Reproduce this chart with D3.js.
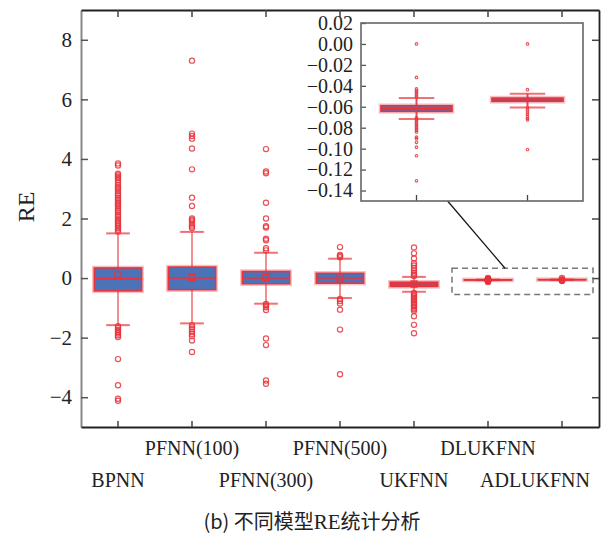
<!DOCTYPE html>
<html>
<head>
<meta charset="utf-8">
<title>RE boxplot</title>
<script src="https://cdn.jsdelivr.net/npm/d3@7"></script>
<style>
  body { margin: 0; background: #fff; }
  text { font-family: 'Liberation Serif', 'Times New Roman', serif; fill: #222; }
  .cjk { font-family: 'Noto Sans CJK SC', sans-serif; }
  .serif { font-family: 'Liberation Serif', serif; }
</style>
</head>
<body>
<svg id="chart" width="616" height="540"></svg>
<script>
// values
var models = ["BPNN", "PFNN(100)", "PFNN(300)", "PFNN(500)", "UKFNN", "DLUKFNN", "ADLUKFNN"];
var q1 = [-0.43, -0.39, -0.19, -0.17, -0.28, -0.0644, -0.0548];
var median = [-0.02, 0.0, 0.0, 0.0, -0.2, -0.0618, -0.0532];
var q3 = [0.34, 0.37, 0.22, 0.16, -0.14, -0.059, -0.0517];
var mean = [0.12, 0.02, 0.02, 0.0, -0.2, -0.062, -0.053];
var whiskerLow = [-1.58, -1.52, -0.86, -0.67, -0.46, -0.0718, -0.0606];
var whiskerHigh = [1.5, 1.55, 0.85, 0.65, 0.04, -0.0517, -0.0475];
var outliers = [
  [3.85, 3.78, 3.5, 3.45, 3.4, 3.35, 3.28, 3.2, 3.12, 3.05, 3.0, 2.92, 2.85, 2.78, 2.7, 2.64, 2.58, 2.52, 2.46, 2.4,
   2.33, 2.26, 2.2, 2.12, 2.05, 1.98, 1.92, 1.86, 1.8, 1.74, 1.68, 1.62, 1.56,
   -1.62, -1.68, -1.74, -1.8, -1.86, -1.92, -1.98, -2.72, -3.6, -4.05, -4.12],
  [7.3, 4.85, 4.77, 4.68, 4.35, 3.65, 2.7, 2.42, 2.0, 1.95, 1.9, 1.8, 1.73, 1.68,
   -1.58, -1.65, -1.72, -1.8, -1.88, -1.95, -2.1, -2.48],
  [4.33, 3.58, 3.52, 2.53, 2.0, 1.74, 1.7, 1.32, 1.27, 1.0, 0.93,
   -0.87, -0.92, -0.98, -1.07, -2.03, -2.25, -3.44, -3.55],
  [1.04, 0.78, 0.74, 0.7, -0.7, -0.77, -0.85, -1.06, -1.73, -3.23],
  [1.03, 0.83, 0.66, 0.5, 0.42, 0.34, 0.26, 0.18, 0.12, 0.07,
   -0.5, -0.55, -0.6, -0.65, -0.7, -0.75, -0.8, -0.85, -0.9, -0.95, -1.0, -1.05, -1.1, -1.28, -1.57, -1.85],
  [0.0, -0.032, -0.043, -0.0445, -0.046, -0.0475, -0.049, -0.0505, -0.0705, -0.072, -0.0735, -0.075, -0.0765,
   -0.078, -0.0795, -0.081, -0.0825, -0.084, -0.089, -0.0905, -0.094, -0.0986, -0.1068, -0.1307],
  [0.0, -0.0437, -0.061, -0.063, -0.065, -0.067, -0.069, -0.071, -0.0725, -0.1008]
];
var yTicks = [-4, -2, 0, 2, 4, 6, 8];
var insetModels = ["DLUKFNN", "ADLUKFNN"];
var insetTicks = [0.02, 0.00, -0.02, -0.04, -0.06, -0.08, -0.10, -0.12, -0.14];
var zoomRange = [-0.55, 0.33];

var blue = "#4c72b8", red = "#e8333b";

var svg = d3.select("#chart");

var x = d3.scaleBand().domain(models).range([81, 599]).padding(0);
var y = d3.scaleLinear().domain([-5, 9]).range([427, 10]);

// frame + axes
var gl = svg.append("g").attr("transform", "translate(81,0)")
  .call(d3.axisLeft(y).tickValues(yTicks).tickSize(-7).tickSizeOuter(0).tickPadding(9).tickFormat(d3.format("d")));
gl.attr("font-family", null).attr("font-size", null);
gl.select(".domain").attr("stroke", "#888").attr("stroke-width", 2);
gl.selectAll(".tick line").attr("stroke", "#555").attr("stroke-width", 1.5);
gl.selectAll(".tick text").attr("class", "serif").style("font-size", "21px").attr("fill", "#222");

var gr = svg.append("g").attr("transform", "translate(599,0)")
  .call(d3.axisRight(y).tickValues(yTicks).tickSize(-7).tickSizeOuter(0).tickFormat(""));
var gt = svg.append("g").attr("transform", "translate(0,10)")
  .call(d3.axisTop(x).tickSize(-7).tickSizeOuter(0).tickFormat(""));
var gb = svg.append("g").attr("transform", "translate(0,427)")
  .call(d3.axisBottom(x).tickSize(-6).tickSizeOuter(0).tickFormat(""));
[gr, gt, gb].forEach(function(g) {
  g.select(".domain").attr("stroke", "#222").attr("stroke-width", 1.8);
  g.selectAll(".tick line").attr("stroke", "#444").attr("stroke-width", 1.5);
});

// category labels, staggered in two rows
svg.append("g").selectAll("text")
  .data(models)
  .enter().append("text")
    .attr("class", "serif")
    .attr("x", function(d) { return x(d) + x.bandwidth() / 2; })
    .attr("y", function(d, i) { return i % 2 ? 455 : 487; })
    .attr("text-anchor", "middle")
    .style("font-size", "20px")
    .text(function(d) { return d; })
    .each(function() {
      var w = this.getComputedTextLength(), cx = +this.getAttribute("x");
      if (cx + w / 2 > 590) this.setAttribute("x", 590 - w / 2);
    });

svg.append("text")
  .attr("class", "serif")
  .attr("transform", "translate(34,207) rotate(-90)")
  .attr("text-anchor", "middle")
  .style("font-size", "24px")
  .text("RE");

var cap = svg.append("text").attr("x", 312).attr("y", 529).attr("text-anchor", "middle")
  .style("font-size", "20px");
cap.append("tspan").attr("class", "cjk").text("(b) 不同模型");
cap.append("tspan").attr("class", "serif").style("font-size", "21px").text("RE");
cap.append("tspan").attr("class", "cjk").text("统计分析");

function drawBox(g, xs, ys, i, name, opt) {
  var bw = xs.bandwidth(), cx = xs(name) + bw / 2;
  var boxW = bw * 0.64, capW = bw * 0.32;
  var b = g.append("g");
  // whisker
  b.append("line").attr("x1", cx).attr("x2", cx)
    .attr("y1", ys(whiskerLow[i])).attr("y2", ys(whiskerHigh[i]))
    .attr("stroke", red).attr("stroke-opacity", opt.whiskerOpacity).attr("stroke-width", 2);
  [whiskerLow[i], whiskerHigh[i]].forEach(function(v) {
    b.append("line").attr("x1", cx - capW / 2).attr("x2", cx + capW / 2)
      .attr("y1", ys(v)).attr("y2", ys(v))
      .attr("stroke", red).attr("stroke-opacity", 0.7).attr("stroke-width", 2);
  });
  // box halo and box
  b.append("rect").attr("x", cx - boxW / 2).attr("width", boxW)
    .attr("y", ys(q3[i])).attr("height", ys(q1[i]) - ys(q3[i]))
    .attr("fill", "none").attr("stroke", red).attr("stroke-opacity", 0.3).attr("stroke-width", 4.5);
  b.append("rect").attr("x", cx - boxW / 2).attr("width", boxW)
    .attr("y", ys(q3[i])).attr("height", ys(q1[i]) - ys(q3[i]))
    .attr("fill", blue).attr("stroke", red).attr("stroke-width", 1.6);
  b.append("line").attr("x1", cx - boxW / 2).attr("x2", cx + boxW / 2)
    .attr("y1", ys(median[i])).attr("y2", ys(median[i]))
    .attr("stroke", red).attr("stroke-width", 1.5);
  if (opt.mean) {
    b.append("rect").attr("x", cx - 3).attr("y", ys(mean[i]) - 3)
      .attr("width", 6).attr("height", 6)
      .attr("fill", "none").attr("stroke", red).attr("stroke-width", 1.3);
  }
  b.selectAll("circle").data(outliers[i]).enter().append("circle")
    .attr("cx", cx).attr("cy", function(d) { return ys(d); })
    .attr("r", opt.r)
    .attr("fill", "none").attr("stroke", red).attr("stroke-opacity", 0.85).attr("stroke-width", opt.sw);
}

var plot = svg.append("g");
models.forEach(function(m, i) {
  drawBox(plot, x, y, i, m, { r: 2.6, sw: 1.2, mean: i < 5, whiskerOpacity: 0.55 });
});

// zoom region and connector
var zx0 = x("DLUKFNN") + 1, zx1 = x("ADLUKFNN") + x.bandwidth() - 6;
svg.append("rect")
  .attr("x", zx0).attr("y", y(zoomRange[1]))
  .attr("width", zx1 - zx0).attr("height", y(zoomRange[0]) - y(zoomRange[1]))
  .attr("fill", "none").attr("stroke", "#777").attr("stroke-width", 1.5).attr("stroke-dasharray", "6,4");

// inset
var xi = d3.scaleBand().domain(insetModels).range([361, 583]).padding(0);
var yi = d3.scaleLinear().domain([-0.15, 0.02]).range([201, 23]);

svg.append("line")
  .attr("x1", 361 + 0.39 * 222).attr("y1", yi(-0.15))
  .attr("x2", x("DLUKFNN") + 0.73 * x.bandwidth()).attr("y2", y(zoomRange[1]))
  .attr("stroke", "#111").attr("stroke-width", 1.2);

var inset = svg.append("g");
inset.append("rect").attr("x", 361).attr("y", 23).attr("width", 222).attr("height", 178)
  .attr("fill", "#fff");

var il = inset.append("g").attr("transform", "translate(361,0)")
  .call(d3.axisLeft(yi).tickValues(insetTicks).tickSize(-5).tickSizeOuter(0).tickPadding(8).tickFormat(d3.format(".2f")));
il.attr("font-family", null).attr("font-size", null);
il.select(".domain").remove();
il.selectAll(".tick line").attr("stroke", "#555").attr("stroke-width", 1.3);
il.selectAll(".tick text").attr("class", "serif").style("font-size", "20px").attr("fill", "#222");

var ib = inset.append("g").attr("transform", "translate(0,201)")
  .call(d3.axisBottom(xi).tickSize(-6).tickSizeOuter(0).tickFormat(""));
ib.select(".domain").remove();
ib.selectAll(".tick line").attr("stroke", "#444").attr("stroke-width", 1.3);

insetModels.forEach(function(m) {
  var i = models.indexOf(m);
  drawBox(inset, xi, yi, i, m, { r: 1.3, sw: 1.1, mean: false, whiskerOpacity: 0.9 });
});

inset.append("rect").attr("x", 361).attr("y", 23).attr("width", 222).attr("height", 178)
  .attr("fill", "none").attr("stroke", "#666").attr("stroke-width", 1.6);
</script>
</body>
</html>
